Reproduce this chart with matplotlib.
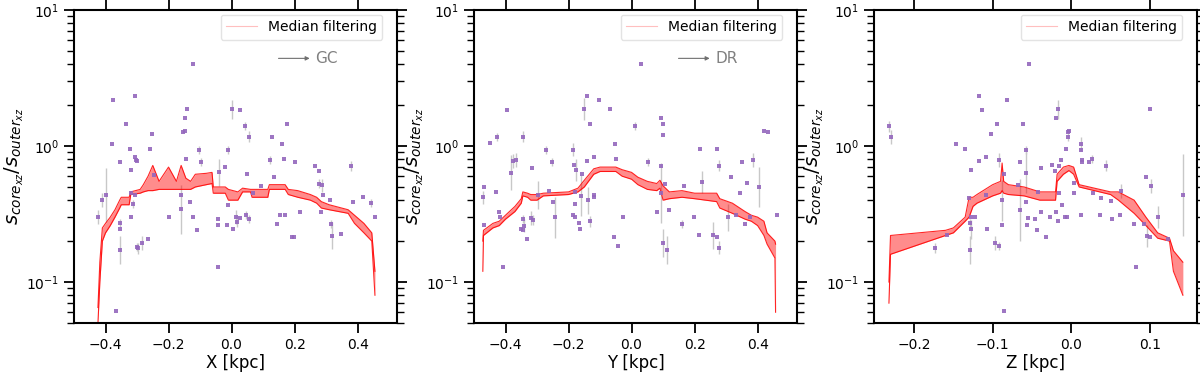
import matplotlib
matplotlib.use('Agg')
import matplotlib.pyplot as plt
import numpy as np
from matplotlib.ticker import MultipleLocator

# ---- panel X: scattered sources (x [kpc], ratio, error in dex)
px_x = [-0.424, -0.411, -0.400, -0.377, -0.378, -0.353, -0.353, -0.353, -0.354, -0.366,
        -0.334, -0.321, -0.319, -0.318, -0.318, -0.314, -0.308, -0.307, -0.304, -0.300,
        -0.305, -0.300, -0.296, -0.283, -0.264, -0.254, -0.258, -0.247, -0.197, -0.148,
        -0.140, -0.153, -0.149, -0.122, -0.144, -0.161, -0.162, -0.131, -0.121, -0.109,
        -0.104, -0.098, -0.039, -0.020, -0.042, -0.043, -0.043, -0.012, -0.010, 0.000,
        -0.013, 0.005, 0.013, 0.026, 0.028, 0.016, 0.043, 0.054, 0.050, 0.047,
        0.054, 0.068, 0.095, 0.127, 0.123, 0.135, 0.153, 0.145, 0.159, 0.167,
        0.171, 0.176, 0.191, 0.198, 0.201, 0.218, 0.264, 0.276, 0.278, 0.286,
        0.289, 0.283, 0.313, 0.315, 0.318, 0.348, 0.378, 0.384, 0.417, 0.441, 0.456]
px_y = [0.30, 0.40, 0.436, 2.18, 1.03, 0.767, 0.273, 0.244, 0.172, 0.061,
        1.44, 0.95, 0.666, 0.449, 0.30, 0.375, 2.33, 0.835, 0.79, 0.776,
        0.438, 0.182, 0.177, 0.193, 0.207, 1.22, 0.95, 0.612, 0.30, 1.60,
        1.87, 1.27, 1.29, 3.98, 0.798, 0.342, 0.44, 0.39, 0.30, 0.241,
        0.935, 0.767, 0.64, 0.70, 0.292, 0.264, 0.130, 0.366, 0.935, 1.87,
        0.263, 0.247, 0.30, 1.84, 0.297, 0.278, 1.40, 1.17, 0.62, 0.31,
        0.289, 0.449, 0.508, 1.17, 0.79, 0.595, 0.31, 0.266, 1.03, 0.798,
        0.313, 1.45, 0.213, 0.216, 0.763, 0.329, 0.717, 0.659, 0.53, 0.514,
        0.44, 0.327, 0.40, 0.267, 0.219, 0.224, 0.713, 0.39, 0.42, 0.38, 0.30]
px_e = [0.05, 0.05, 0.20, 0, 0, 0, 0.03, 0, 0.10, 0,
        0, 0, 0, 0, 0, 0.03, 0, 0, 0, 0,
        0, 0.03, 0.04, 0.05, 0, 0, 0, 0, 0, 0,
        0, 0, 0, 0, 0, 0.18, 0, 0, 0, 0,
        0.03, 0.03, 0.10, 0, 0, 0, 0, 0, 0.03, 0.07,
        0, 0, 0.05, 0, 0, 0.04, 0.03, 0.04, 0, 0.03,
        0.03, 0, 0, 0, 0.03, 0, 0, 0, 0, 0,
        0, 0, 0, 0, 0, 0, 0, 0, 0.03, 0.05,
        0, 0, 0, 0.03, 0.10, 0, 0.04, 0, 0, 0.03, 0]

# ---- panel Y
py_x = [-0.472, -0.467, -0.467, -0.450, -0.428, -0.430, -0.422, -0.419, -0.407, -0.396,
        -0.381, -0.377, -0.368, -0.343, -0.343, -0.350, -0.343, -0.340, -0.332, -0.317,
        -0.319, -0.313, -0.296, -0.273, -0.263, -0.253, -0.250, -0.242, -0.185, -0.183,
        -0.175, -0.180, -0.179, -0.185, -0.178, -0.167, -0.165, -0.160, -0.152, -0.156,
        -0.140, -0.141, -0.137, -0.133, -0.133, -0.119, -0.119, -0.119, -0.103, -0.068,
        -0.057, -0.051, -0.050, -0.042, -0.027, 0.029, 0.011, 0.051, 0.082, 0.092,
        0.092, 0.100, 0.100, 0.100, 0.106, 0.113, 0.119, 0.092, 0.161, 0.167,
        0.198, 0.217, 0.215, 0.223, 0.259, 0.270, 0.271, 0.277, 0.278, 0.307,
        0.317, 0.333, 0.344, 0.352, 0.360, 0.365, 0.376, 0.384, 0.403, 0.420,
        0.432, 0.460]
py_y = [0.419, 0.50, 0.263, 1.05, 1.17, 0.457, 0.327, 0.30, 0.13, 1.84,
        0.637, 0.78, 0.79, 1.17, 0.29, 0.247, 0.241, 0.26, 0.209, 0.689,
        0.296, 0.286, 0.436, 0.94, 0.47, 0.767, 0.387, 0.30, 0.94, 0.73,
        0.666, 0.462, 0.375, 0.31, 0.30, 0.273, 0.244, 0.43, 1.88, 0.62,
        2.33, 0.776, 0.40, 1.45, 0.28, 0.835, 0.436, 0.419, 2.18, 1.86,
        0.216, 1.03, 0.798, 0.184, 0.30, 3.98, 1.40, 0.767, 0.325, 1.60,
        0.717, 1.44, 1.21, 0.194, 0.522, 0.172, 0.338, 0.449, 0.267, 0.508,
        0.30, 0.95, 0.222, 0.547, 0.22, 0.213, 0.95, 0.179, 0.717, 0.30,
        0.595, 0.31, 0.454, 0.767, 0.267, 0.532, 0.299, 0.79, 0.50, 1.30,
        1.27, 0.313]
py_e = [0.05, 0, 0, 0, 0.03, 0, 0, 0, 0, 0,
        0.13, 0.05, 0.05, 0.04, 0.03, 0, 0, 0.05, 0, 0,
        0.05, 0.04, 0.10, 0.03, 0, 0.03, 0, 0.15, 0.05, 0,
        0.08, 0, 0, 0, 0, 0, 0, 0.15, 0.08, 0,
        0, 0, 0.10, 0, 0.04, 0, 0, 0, 0, 0,
        0, 0, 0, 0, 0, 0, 0.03, 0.03, 0, 0,
        0, 0, 0, 0.10, 0, 0.10, 0, 0.22, 0.03, 0,
        0, 0, 0, 0.08, 0.10, 0, 0, 0.05, 0.04, 0.10,
        0, 0, 0, 0, 0, 0, 0, 0.05, 0.15, 0,
        0, 0]

# ---- panel Z
pz_x = [-0.232, -0.230, -0.174, -0.158, -0.147, -0.135, -0.130, -0.128, -0.128, -0.129,
        -0.129, -0.127, -0.123, -0.118, -0.117, -0.113, -0.109, -0.108, -0.107, -0.102,
        -0.097, -0.095, -0.092, -0.092, -0.088, -0.088, -0.085, -0.086, -0.082, -0.068,
        -0.065, -0.065, -0.061, -0.058, -0.057, -0.057, -0.056, -0.055, -0.054, -0.046,
        -0.043, -0.042, -0.039, -0.039, -0.032, -0.027, -0.024, -0.021, -0.020, -0.019,
        -0.017, -0.017, -0.015, -0.015, -0.013, -0.012, -0.007, -0.008, -0.006, -0.004,
        -0.003, -0.004, 0.004, 0.003, 0.012, 0.012, 0.014, 0.014, 0.013, 0.022,
        0.026, 0.028, 0.036, 0.038, 0.044, 0.050, 0.052, 0.063, 0.062, 0.080,
        0.082, 0.093, 0.095, 0.096, 0.100, 0.100, 0.102, 0.111, 0.123, 0.142]
pz_y = [1.40, 1.17, 0.178, 0.222, 1.03, 0.95, 0.417, 0.666, 0.30, 0.273,
        0.172, 0.244, 0.30, 2.33, 0.776, 1.84, 0.44, 0.835, 0.247, 1.22,
        0.193, 1.44, 0.184, 0.79, 0.263, 0.40, 0.62, 0.061, 2.18, 0.52,
        0.767, 0.339, 1.45, 0.636, 0.935, 0.387, 0.263, 0.296, 3.98, 0.289,
        0.241, 0.457, 0.689, 0.325, 0.216, 0.30, 0.725, 0.659, 1.60, 0.327,
        0.28, 1.87, 0.717, 0.449, 0.79, 0.366, 0.945, 0.30, 0.303, 1.27,
        1.29, 1.17, 0.449, 0.532, 1.03, 0.935, 0.763, 0.79, 0.31, 0.767,
        0.798, 0.449, 0.31, 0.417, 0.717, 0.392, 0.289, 0.467, 0.313, 0.267,
        0.13, 0.267, 0.595, 0.218, 1.86, 0.213, 0.508, 0.30, 0.207, 0.436]
pz_e = [0.04, 0.05, 0.04, 0, 0, 0, 0, 0, 0, 0.03,
        0.10, 0.07, 0, 0, 0, 0, 0, 0, 0, 0,
        0.05, 0, 0.03, 0.05, 0, 0.15, 0, 0, 0, 0,
        0, 0.23, 0, 0.15, 0.03, 0, 0, 0, 0, 0,
        0, 0, 0, 0, 0, 0, 0, 0, 0, 0,
        0, 0.07, 0, 0, 0, 0, 0, 0, 0, 0,
        0, 0.03, 0, 0, 0.05, 0, 0, 0, 0, 0,
        0.03, 0, 0, 0, 0.04, 0, 0, 0.05, 0, 0,
        0, 0, 0, 0.08, 0, 0, 0.05, 0.08, 0, 0.30]

# ---- median-filtering band (lower / upper envelope of the filtered curves)
mx_x = [-0.424, -0.418, -0.410, -0.400, -0.385, -0.370, -0.355, -0.350, -0.325, -0.320,
        -0.290, -0.280, -0.265, -0.250, -0.230, -0.200, -0.175, -0.160, -0.145, -0.130,
        -0.115, -0.080, -0.062, -0.058, -0.020, -0.010, 0.020, 0.035, 0.060, 0.065,
        0.115, 0.120, 0.170, 0.180, 0.210, 0.250, 0.270, 0.285, 0.310, 0.370,
        0.390, 0.420, 0.445, 0.455]
mx_lo = [0.05, 0.10, 0.20, 0.23, 0.26, 0.30, 0.35, 0.37, 0.37, 0.44,
         0.45, 0.46, 0.47, 0.47, 0.48, 0.48, 0.48, 0.48, 0.48, 0.48,
         0.50, 0.52, 0.53, 0.45, 0.45, 0.40, 0.40, 0.46, 0.46, 0.42,
         0.42, 0.48, 0.48, 0.44, 0.42, 0.40, 0.38, 0.35, 0.34, 0.32,
         0.27, 0.23, 0.20, 0.08]
mx_hi = [0.065, 0.14, 0.25, 0.27, 0.30, 0.34, 0.40, 0.42, 0.42, 0.46,
         0.48, 0.52, 0.60, 0.72, 0.55, 0.70, 0.55, 0.72, 0.58, 0.55,
         0.62, 0.63, 0.64, 0.50, 0.50, 0.48, 0.46, 0.49, 0.48, 0.48,
         0.48, 0.52, 0.52, 0.48, 0.47, 0.44, 0.42, 0.39, 0.37, 0.34,
         0.31, 0.27, 0.23, 0.12]

my_x = [-0.472, -0.470, -0.440, -0.420, -0.400, -0.370, -0.350, -0.345, -0.330, -0.320,
        -0.300, -0.280, -0.200, -0.170, -0.150, -0.120, -0.100, -0.050, -0.030, 0.000,
        0.020, 0.050, 0.080, 0.090, 0.100, 0.120, 0.160, 0.200, 0.270, 0.280,
        0.320, 0.360, 0.380, 0.400, 0.420, 0.430, 0.455, 0.457]
my_lo = [0.12, 0.22, 0.25, 0.26, 0.29, 0.33, 0.38, 0.43, 0.42, 0.40,
         0.40, 0.43, 0.44, 0.46, 0.50, 0.62, 0.65, 0.65, 0.60, 0.57,
         0.52, 0.48, 0.47, 0.49, 0.40, 0.41, 0.42, 0.41, 0.39, 0.35,
         0.32, 0.29, 0.28, 0.26, 0.22, 0.19, 0.15, 0.06]
my_hi = [0.20, 0.24, 0.27, 0.28, 0.31, 0.36, 0.41, 0.46, 0.45, 0.44,
         0.44, 0.45, 0.46, 0.49, 0.56, 0.68, 0.70, 0.70, 0.67, 0.64,
         0.59, 0.55, 0.53, 0.56, 0.51, 0.46, 0.47, 0.45, 0.45, 0.41,
         0.38, 0.33, 0.31, 0.30, 0.28, 0.23, 0.20, 0.19]

mz_x = [-0.232, -0.230, -0.160, -0.150, -0.135, -0.130, -0.125, -0.120, -0.100, -0.090,
        -0.088, -0.086, -0.080, -0.060, -0.040, -0.020, -0.018, -0.010, -0.003, 0.003,
        0.010, 0.050, 0.060, 0.080, 0.095, 0.110, 0.125, 0.130, 0.142]
mz_lo = [0.07, 0.16, 0.22, 0.23, 0.28, 0.30, 0.36, 0.38, 0.43, 0.45,
         0.47, 0.45, 0.44, 0.43, 0.40, 0.40, 0.55, 0.62, 0.66, 0.62,
         0.50, 0.44, 0.40, 0.32, 0.26, 0.21, 0.20, 0.12, 0.08]
mz_hi = [0.10, 0.22, 0.24, 0.25, 0.30, 0.42, 0.42, 0.44, 0.52, 0.55,
         0.75, 0.55, 0.52, 0.50, 0.46, 0.46, 0.62, 0.70, 0.72, 0.70,
         0.52, 0.46, 0.46, 0.40, 0.30, 0.23, 0.21, 0.17, 0.14]

panels = [
    (px_x, px_y, px_e, mx_x, mx_lo, mx_hi, 'X [kpc]', (-0.5, 0.525), 0.2, 'GC', (0.149, 0.248)),
    (py_x, py_y, py_e, my_x, my_lo, my_hi, 'Y [kpc]', (-0.5, 0.525), 0.2, 'DR', (0.149, 0.248)),
    (pz_x, pz_y, pz_e, mz_x, mz_lo, mz_hi, 'Z [kpc]', (-0.251, 0.16), 0.1, None, None),
]
lefts = [74 / 1200, 474 / 1200, 874 / 1200]

fig = plt.figure(figsize=(12, 3.76), dpi=100)
for left, (sx, sy, se, mx, mlo, mhi, xlab, xlim, step, tag, arr) in zip(lefts, panels):
    ax = fig.add_axes([left, 53 / 376, 323 / 1200, 313 / 376])
    sy = np.array(sy)
    se = np.array(se)
    lo_err = sy - sy * 10 ** (-se)
    hi_err = sy * 10 ** se - sy
    ax.errorbar(sx, sy, yerr=[lo_err, hi_err], fmt='none', ecolor='#c8c8c8',
                elinewidth=1, zorder=1)
    ax.plot(sx, sy, 's', color='#9467bd', ms=3.5, mew=0, alpha=0.9, zorder=3)

    ax.fill_between(mx, mlo, mhi, color='red', alpha=0.45, lw=0, zorder=2)
    ax.plot(mx, mlo, color='red', lw=0.8, alpha=0.85, zorder=2)
    ax.plot(mx, mhi, color='red', lw=0.8, alpha=0.85, zorder=2)
    ax.plot([], [], color='red', lw=0.8, alpha=0.25, label='Median filtering')

    ax.set_yscale('log')
    ax.set_ylim(0.05, 10)
    ax.set_xlim(*xlim)
    ax.xaxis.set_major_locator(MultipleLocator(step))
    ax.set_xlabel(xlab, fontsize=12, labelpad=2)
    ax.set_ylabel(r'$s_{core_{xz}}/s_{outer_{xz}}$', fontsize=14, labelpad=0)
    ax.tick_params(which='both', direction='out', top=True, right=True, labelsize=10)
    ax.tick_params(which='major', length=7, width=1.3)
    ax.tick_params(which='minor', length=5, width=1.0)
    for sp in ax.spines.values():
        sp.set_linewidth(1.5)
    leg = ax.legend(loc='upper right', bbox_to_anchor=(0.955, 0.985), borderaxespad=0,
                    fontsize=10, frameon=True, handlelength=2.2)
    leg.get_frame().set_edgecolor('#dddddd')

    if tag:
        ax.annotate('', xy=(arr[1], 4.41), xytext=(arr[0], 4.41),
                    arrowprops=dict(arrowstyle='-|>', color='#707070', lw=0.8,
                                    mutation_scale=6, shrinkA=0, shrinkB=0))
        ax.text(arr[1] + 0.017, 4.41, tag, color='#808080', fontsize=11,
                va='center', ha='left')

fig.savefig('out.png', dpi=100)
